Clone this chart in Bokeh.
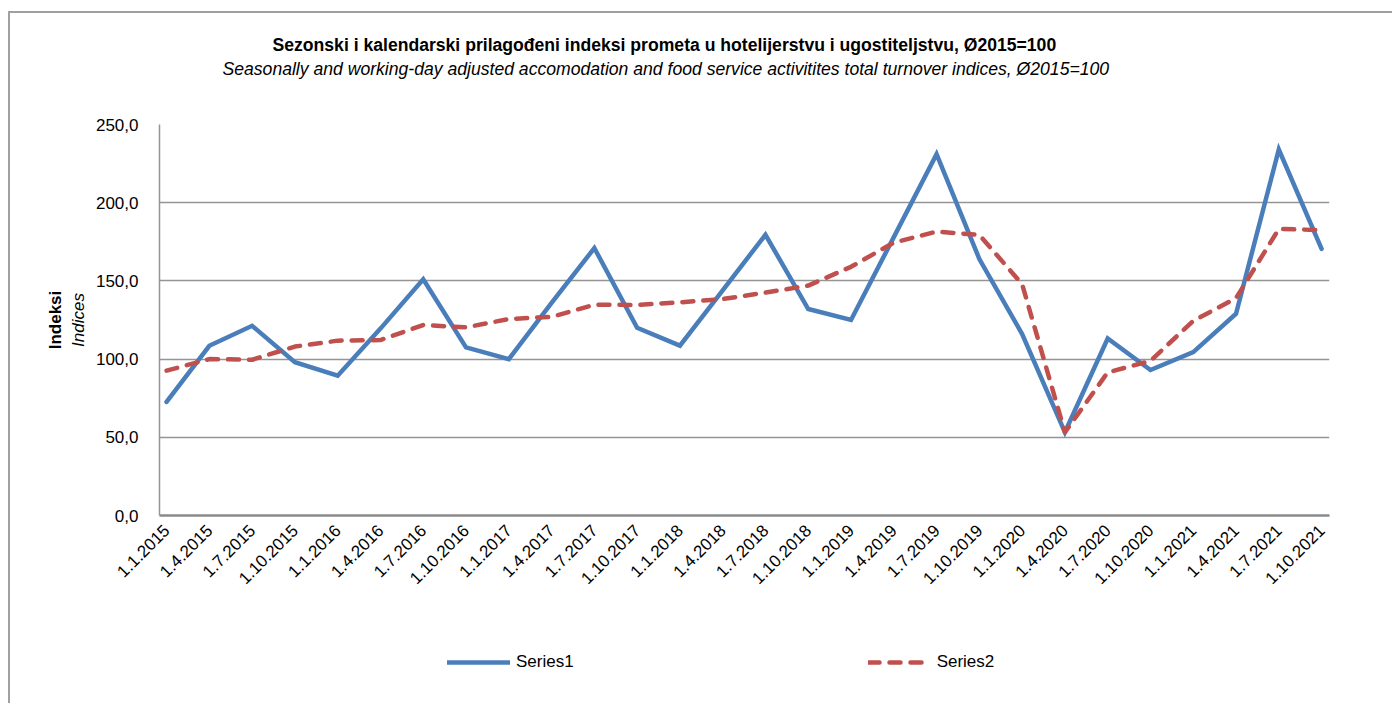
from bokeh.plotting import figure
from bokeh.models import (Range1d, FixedTicker, Legend, LegendItem, Title,
                          LinearAxis)
from bokeh.layouts import column
from bokeh.embed import file_html
from bokeh.resources import INLINE
import math

categories = ["1.1.2015", "1.4.2015", "1.7.2015", "1.10.2015",
              "1.1.2016", "1.4.2016", "1.7.2016", "1.10.2016",
              "1.1.2017", "1.4.2017", "1.7.2017", "1.10.2017",
              "1.1.2018", "1.4.2018", "1.7.2018", "1.10.2018",
              "1.1.2019", "1.4.2019", "1.7.2019", "1.10.2019",
              "1.1.2020", "1.4.2020", "1.7.2020", "1.10.2020",
              "1.1.2021", "1.4.2021", "1.7.2021", "1.10.2021"]

series1 = [72.6, 108.5, 121.3, 98.0, 89.4, 119.5, 151.0, 107.5,
           100.0, 136.0, 171.0, 120.0, 108.6, 144.0, 179.5, 132.0,
           125.0, 178.0, 231.0, 164.0, 116.0, 53.2, 113.2, 93.0,
           104.5, 129.0, 234.0, 170.5]

series2 = [92.6, 100.0, 99.6, 108.0, 111.8, 112.2, 121.8, 120.3,
           125.6, 127.0, 134.8, 134.6, 136.3, 138.4, 142.5, 147.0,
           159.0, 174.5, 181.5, 179.4, 147.9, 53.2, 91.5, 98.9,
           124.4, 139.0, 183.2, 182.5]

y_ticks = [0, 50, 100, 150, 200, 250]
y_tick_labels = ["0,0", "50,0", "100,0", "150,0", "200,0", "250,0"]

title_1 = "Sezonski i kalendarski prilagođeni indeksi prometa u hotelijerstvu i ugostiteljstvu, Ø2015=100"
title_2 = "Seasonally and working-day adjusted accomodation and food service activitites total turnover indices, Ø2015=100"
y_title_1 = "Indeksi"
y_title_2 = "Indices"
series_names = ["Series1", "Series2"]

FONT = "Liberation Sans"
FS = "17px"
TFS = "17.6px"
BLUE = "#4a7ebb"
RED = "#c0504d"
GRID = "#959595"
S1_STYLE = dict(line_color=BLUE, line_width=4.5, line_join="miter",
                line_cap="round")
S2_STYLE = dict(line_color=RED, line_width=4.5, line_dash="11 10",
                line_join="round", line_cap="round")

xs = list(range(len(categories)))

W = 1382
p = figure(width=W, height=602, output_backend="svg", toolbar_location=None,
           x_range=Range1d(-0.165, 27.185), y_range=Range1d(0, 250),
           min_border_left=149, min_border_right=63, min_border_top=111,
           min_border_bottom=100, background_fill_color="white",
           border_fill_color="white")
p.outline_line_color = None

# x axis
p.xaxis.ticker = FixedTicker(ticks=xs)
p.xaxis.major_label_overrides = {i: c for i, c in enumerate(categories)}
p.xaxis.major_label_orientation = math.pi / 4
p.xaxis.major_label_text_font = FONT
p.xaxis.major_label_text_font_size = FS
p.xaxis.major_label_text_color = "black"
p.xaxis.major_label_standoff = 6
p.xaxis.axis_line_color = "#8a8a8a"
p.xaxis.axis_line_width = 2.5
p.xaxis.major_tick_line_color = None
p.xaxis.minor_tick_line_color = None

# y axis
p.yaxis.ticker = FixedTicker(ticks=y_ticks)
p.yaxis.major_label_overrides = {t: l for t, l in zip(y_ticks, y_tick_labels)}
p.yaxis.major_label_text_font = FONT
p.yaxis.major_label_text_font_size = FS
p.yaxis.major_label_text_color = "black"
p.yaxis.major_label_standoff = 15
p.yaxis.axis_line_color = GRID
p.yaxis.axis_line_width = 1.5
p.yaxis.major_tick_line_color = None
p.yaxis.minor_tick_line_color = None
p.yaxis.axis_label = y_title_2
p.yaxis.axis_label_text_font = FONT
p.yaxis.axis_label_text_font_size = FS
p.yaxis.axis_label_text_font_style = "italic"
p.yaxis.axis_label_text_color = "black"
p.yaxis.axis_label_standoff = 5

outer = LinearAxis(ticker=FixedTicker(ticks=[]), axis_label=y_title_1,
                   axis_label_text_font=FONT, axis_label_text_font_size=FS,
                   axis_label_text_font_style="bold",
                   axis_label_text_color="black", axis_label_standoff=1,
                   axis_line_color=None, major_tick_line_color=None,
                   minor_tick_line_color=None, major_label_standoff=0,
                   major_tick_out=0, major_tick_in=0)
p.add_layout(outer, "left")

p.xgrid.grid_line_color = None
p.ygrid.grid_line_color = GRID
p.ygrid.grid_line_width = 1.5

p.line(xs, series1, **S1_STYLE)
p.line(xs, series2, **S2_STYLE)

# titles: spacer nearest the frame, then subtitle, then main title
p.add_layout(Title(text=" ", text_font_size="1px", standoff=41), "above")
p.add_layout(Title(text=title_2, text_font=FONT, text_font_size=TFS,
                   text_font_style="italic", text_color="black",
                   align="left", offset=63, standoff=3), "above")
p.add_layout(Title(text=title_1, text_font=FONT, text_font_size=TFS,
                   text_font_style="bold", text_color="black",
                   align="left", offset=113, standoff=1), "above")

# legend strip below the chart (its frame is aligned with the chart frame;
# the series are drawn there only to feed the legend and lie out of view)
lg = figure(width=W, height=88, output_backend="svg", toolbar_location=None,
            x_range=Range1d(0, 1), y_range=Range1d(0, 1),
            x_axis_location=None, y_axis_location=None,
            min_border_left=0, min_border_right=0, min_border_top=0,
            min_border_bottom=0, background_fill_color="white",
            border_fill_color="white")
lg.outline_line_color = None
lg.grid.grid_line_color = None
l1 = lg.line(xs, series1, **S1_STYLE)
l2 = lg.line(xs, series2, **S2_STYLE)
legend = Legend(items=[LegendItem(label=series_names[0], renderers=[l1]),
                       LegendItem(label=series_names[1], renderers=[l2])],
                orientation="horizontal", location=(288, 31),
                padding=0, margin=0, spacing=294, glyph_width=63,
                glyph_height=20, label_standoff=6, label_height=20,
                label_text_font=FONT, label_text_font_size=FS,
                label_text_color="black", border_line_color=None,
                background_fill_alpha=0)
lg.add_layout(legend, "center")

layout = column(p, lg, spacing=0,
                styles={"border-left": "2px solid #a0a0a0",
                        "border-top": "2px solid #a0a0a0",
                        "margin-top": "11px", "margin-left": "8px"})

open("out.html", "w").write(file_html(layout, INLINE))
